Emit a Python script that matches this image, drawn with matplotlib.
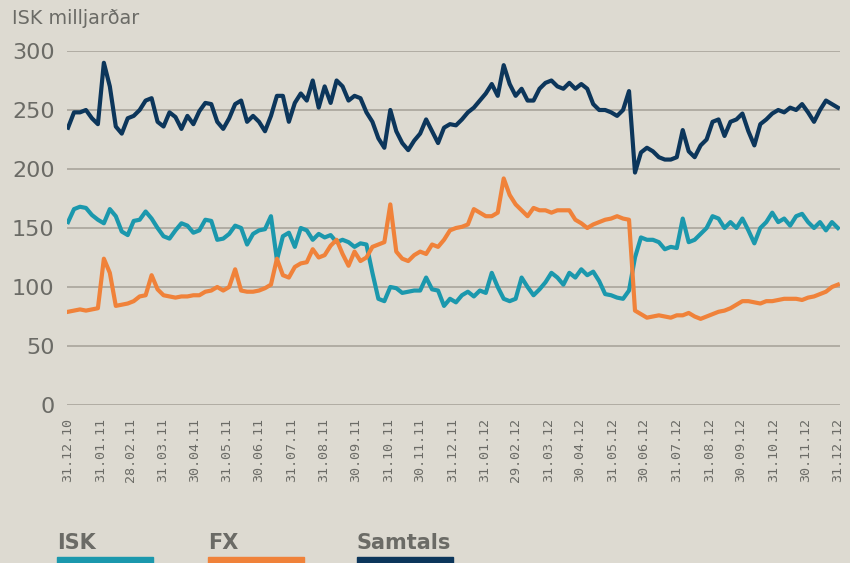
import matplotlib
matplotlib.use("Agg")
import matplotlib.pyplot as plt
import pandas as pd
from matplotlib.patches import Rectangle

# ---- data (ISK milljarðar) ----
samtals = [235, 248, 248, 250, 243, 238, 290, 270, 236, 230, 243, 245, 250, 258, 260, 240, 236, 248, 244, 234, 245, 238,
           249, 256, 255, 240, 234, 243, 255, 258, 240, 245, 240, 232, 245, 262, 262, 240, 256, 264, 258, 275, 252, 270,
           256, 275, 270, 258, 262, 260, 248, 240, 226, 218, 250, 232, 222, 216, 224, 230, 242, 232, 222, 235, 238,
           237, 242, 248, 252, 258, 264, 272, 262, 288, 272, 262, 268, 258, 258, 268, 273, 275, 270, 268, 273, 268, 272,
           268, 255, 250, 250, 248, 245, 250, 266, 197, 214, 218, 215, 210, 208, 208, 210, 233, 215, 210, 220, 225, 240,
           242, 228, 240, 242, 247, 232, 220, 238, 242, 247, 250, 248, 252, 250, 255, 248, 240, 250, 258, 255, 252]

isk = [155, 166, 168, 167, 161, 157, 154, 166, 160, 147, 144, 156, 157, 164, 158, 150, 143, 141, 148, 154, 152, 146,
       148, 157, 156, 140, 141, 145, 152, 150, 136, 145, 148, 149, 160, 123, 143, 146, 134, 150, 148, 140, 145, 142,
       144, 138, 140, 138, 134, 137, 136, 112, 90, 88, 100, 99, 95, 96, 97, 97, 108, 98, 97, 84, 90,
       87, 93, 96, 92, 97, 95, 112, 100, 90, 88, 90, 108, 100, 93, 98, 104, 112, 108, 102, 112, 108, 115,
       110, 113, 105, 94, 93, 91, 90, 97, 125, 142, 140, 140, 138, 132, 134, 133, 158, 138, 140, 145, 150, 160,
       158, 150, 155, 150, 158, 148, 137, 150, 155, 163, 155, 158, 152, 160, 162, 155, 150, 155, 148, 155, 150]

fx = [79, 80, 81, 80, 81, 82, 124, 112, 84, 85, 86, 88, 92, 93, 110, 98, 93, 92, 91, 92, 92, 93,
      93, 96, 97, 100, 97, 100, 115, 97, 96, 96, 97, 99, 102, 124, 110, 108, 117, 120, 121, 132, 125, 127,
      135, 140, 128, 118, 130, 122, 125, 134, 136, 138, 170, 130, 124, 122, 127, 130, 128, 136, 134, 140, 148,
      150, 151, 153, 166, 163, 160, 160, 163, 192, 178, 170, 165, 160, 167, 165, 165, 163, 165, 165, 165, 157, 154,
      150, 153, 155, 157, 158, 160, 158, 157, 80, 77, 74, 75, 76, 75, 74, 76, 76, 78, 75, 73, 75, 77,
      79, 80, 82, 85, 88, 88, 87, 86, 88, 88, 89, 90, 90, 90, 89, 91, 92, 94, 96, 100, 102]

tick_labels = ["31.12.10", "31.01.11", "28.02.11", "31.03.11", "30.04.11", "31.05.11", "30.06.11",
               "31.07.11", "31.08.11", "30.09.11", "31.10.11", "30.11.11", "31.12.11", "31.01.12",
               "29.02.12", "31.03.12", "30.04.12", "31.05.12", "30.06.12", "31.07.12", "31.08.12",
               "30.09.12", "31.10.12", "30.11.12", "31.12.12"]
y_ticks = [0, 50, 100, 150, 200, 250, 300]
series_names = ["ISK", "FX", "Samtals"]

dates = pd.date_range("2010-12-31", "2012-12-31", periods=len(samtals))
tick_dates = pd.to_datetime(tick_labels, format="%d.%m.%y")

BG = "#dddad1"
C_ISK = "#1b98ad"
C_FX = "#f0823a"
C_SAM = "#0c365b"
TXT = "#6b6b66"
GRID = "#a9a59b"

fig = plt.figure(figsize=(8.5, 5.63), dpi=100, facecolor=BG)
ax = fig.add_axes([67 / 850, 1 - 405 / 563, (840 - 67) / 850, (405 - 51) / 563])
ax.set_facecolor(BG)
for s in ax.spines.values():
    s.set_visible(False)

for yv in y_ticks:
    ax.axhline(yv, color=GRID, lw=1.2, zorder=1)

lw = 3.0
ax.plot(dates, isk, color=C_ISK, lw=lw, solid_joinstyle="round", zorder=3)
ax.plot(dates, fx, color=C_FX, lw=lw, solid_joinstyle="round", zorder=4)
ax.plot(dates, samtals, color=C_SAM, lw=lw, solid_joinstyle="round", zorder=5)

ax.set_ylim(0, 300)
ax.set_xlim(dates[0] - pd.Timedelta(days=1), dates[-1] + pd.Timedelta(days=2))
ax.set_yticks(y_ticks)
ax.set_yticklabels([str(v) for v in y_ticks], fontsize=16, color=TXT, family="DejaVu Sans")
ax.set_xticks(tick_dates)
ax.set_xticklabels(tick_labels, rotation=90, fontsize=9.6, color=TXT, family="DejaVu Sans Mono")
ax.tick_params(axis="both", length=0)
ax.tick_params(axis="y", pad=9)
ax.tick_params(axis="x", pad=9)

fig.text(12 / 850, 1 - 18 / 563, "ISK milljarðar", fontsize=13.8, color=TXT, va="center", ha="left")

# legend
leg_x = [57, 208, 357]
leg_c = [C_ISK, C_FX, C_SAM]
for name, xp, c in zip(series_names, leg_x, leg_c):
    fig.text(xp / 850, 1 - 543 / 563, name, fontsize=15, fontweight="bold", color=TXT,
             va="center", ha="left", family=["Liberation Sans Narrow", "DejaVu Sans"])
    fig.patches.append(Rectangle((xp / 850, 0), 96 / 850, 6 / 563, transform=fig.transFigure,
                                 color=c, figure=fig))

fig.savefig("out.png", dpi=100, facecolor=BG)
